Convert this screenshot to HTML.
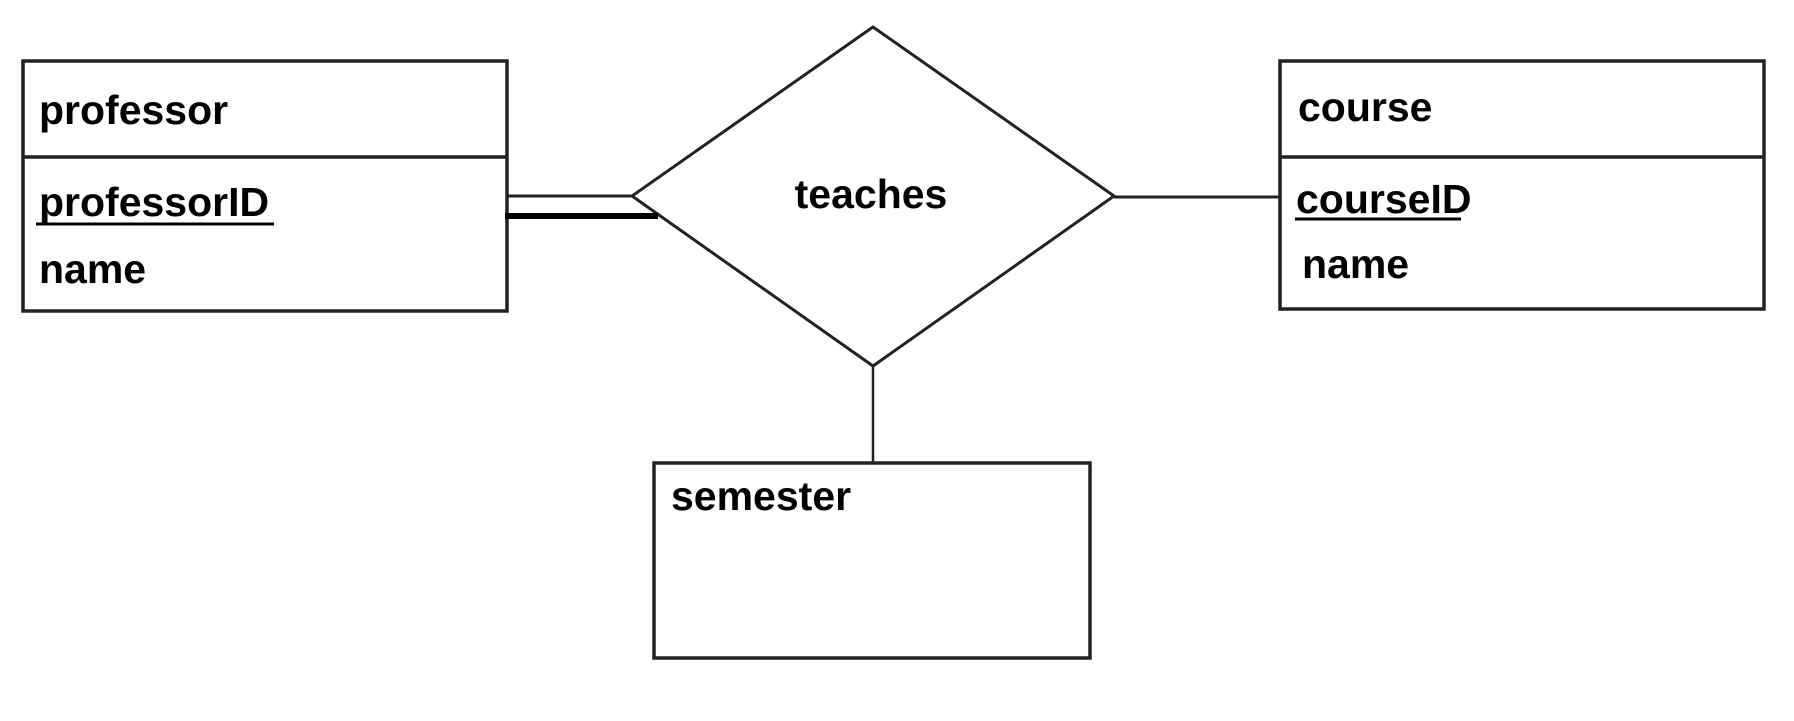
<!DOCTYPE html>
<html><head><meta charset="utf-8"><style>
html,body{margin:0;padding:0;background:#fff;width:1794px;height:721px;overflow:hidden}
svg text{font-family:"Liberation Sans",sans-serif;font-weight:bold;font-size:41px;fill:#000}
</style></head><body>
<svg width="1794" height="721" viewBox="0 0 1794 721" xmlns="http://www.w3.org/2000/svg">
<g fill="none" stroke="#222" stroke-width="3.5">
<rect x="23" y="61" width="484" height="250"/>
<line x1="23" y1="157" x2="507" y2="157"/>
<rect x="1280" y="61" width="484" height="248"/>
<line x1="1280" y1="157" x2="1764" y2="157"/>
<rect x="654" y="463" width="436" height="195"/>
<polygon points="873,27 1114,196 873,366 632,196" stroke-width="3"/>
</g>
<g stroke="#222">
<line x1="508" y1="196" x2="631" y2="196" stroke-width="3"/>
<line x1="505" y1="216" x2="658" y2="216" stroke="#000" stroke-width="6"/>
<line x1="1114" y1="197" x2="1280" y2="197" stroke-width="3"/>
<line x1="873" y1="366" x2="873" y2="463" stroke-width="2.5"/>
<line x1="36" y1="224" x2="274" y2="224" stroke="#000" stroke-width="3"/>
<line x1="1295" y1="219" x2="1461" y2="219" stroke="#000" stroke-width="3"/>
</g>
<text x="39" y="124">professor</text>
<text x="39" y="216">professorID</text>
<text x="39" y="283">name</text>
<text x="871" y="208" text-anchor="middle">teaches</text>
<text x="1298" y="121">course</text>
<text x="1296" y="213">courseID</text>
<text x="1302" y="278">name</text>
<text x="671" y="510">semester</text>
</svg>
</body></html>
